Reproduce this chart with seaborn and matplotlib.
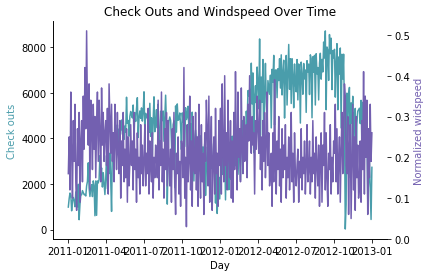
import matplotlib
matplotlib.use("Agg")
import matplotlib.pyplot as plt
import seaborn as sns
import pandas as pd

# Bike check-outs, every second day from 2011-01-01 to 2012-12-31
cnt = [
    985, 1349, 1600, 1510, 822, 1263, 1406, 1248, 1000, 1650, 1543, 986, 1985, 431, 1098, 1501,      # 2011-01
    1526, 1708, 1623, 1530, 1538, 1472, 1913, 2115, 2927, 1812, 1450, 1807, 1969, 1446,              # 2011-02
    2134, 1944, 605, 2133, 623, 2132, 2046, 2192, 3239, 2471, 2703, 1865, 2496, 2028, 1536,          # 2011-03
    2227, 3249, 1795, 3141, 2455, 3348, 2162, 795, 3744, 3204, 4189, 4036, 4073, 3872, 4595,         # 2011-04
    3351, 4401, 4451, 4362, 4803, 4182, 4864, 3958, 4541, 4274, 5805, 4660, 4788, 4098, 4968, 5180,  # 2011-05
    5020, 4900, 5463, 3974, 5119, 4744, 5305, 5785, 4040, 4891, 5202, 4881, 5336, 4758, 5180,        # 2011-06
    6043, 4342, 5099, 4906, 5046, 4590, 4258, 5538, 4086, 4905, 3285, 4758, 5823, 4292, 4692,        # 2011-07
    5260, 4459, 5501, 3603, 4109, 5191, 4866, 4780, 5202, 3873, 4917, 5895, 4576, 1115, 3351, 4758,  # 2011-08
    4940, 4785, 3834, 2710, 4602, 4765, 1842, 5423, 4274, 5511, 4795, 4830, 5115, 4595, 3510,        # 2011-09
    5117, 4727, 5138, 3644, 5342, 4826, 4985, 5409, 4294, 3331, 4648, 3570, 5150, 4187, 2132,        # 2011-10
    3974, 4362, 3895, 4035, 3663, 4322, 3403, 4109, 2425, 3614, 3620, 3310, 3767, 1495, 2739,        # 2011-11
    3614, 2832, 3785, 3310, 2739, 3767, 2660, 3068, 3214, 2425, 1162, 2743, 705, 1796, 2294, 1341,   # 2011-12
    2294, 4097, 2417, 3214, 2566, 3429, 1301, 3620, 3239, 2898, 1746, 3829, 2209, 3351, 4097,        # 2012-01
    2732, 3922, 3830, 2802, 4318, 3357, 2423, 3194, 4322, 2169, 4151, 3659, 4780, 3349, 4563,        # 2012-02
    3922, 5191, 4665, 6093, 5847, 6153, 4990, 7300, 5511, 6871, 3372, 5847, 6312, 5558, 7132,        # 2012-03
    6370, 5302, 8362, 4118, 6691, 5585, 7460, 3331, 6041, 7290, 5572, 4673, 6536, 6233, 5936,        # 2012-04
    6772, 4459, 7030, 6460, 7642, 4586, 6998, 7001, 5786, 7055, 6536, 7498, 6206, 7665, 5905, 6883,  # 2012-05
    7429, 4891, 6879, 7639, 5463, 6825, 8120, 6153, 7494, 5531, 7493, 6770, 5342, 7264, 6398,        # 2012-06
    6043, 7458, 5687, 7264, 6966, 4672, 7347, 6779, 5936, 7286, 6612, 7001, 5140, 7410, 6917,        # 2012-07
    7261, 5923, 7665, 7499, 4905, 7580, 6897, 7641, 5464, 7713, 6830, 7109, 5686, 7290, 7733, 6598,  # 2012-08
    7466, 6914, 8227, 7525, 8714, 5260, 8009, 7865, 6544, 8555, 7720, 8395, 6140, 7852, 7534,        # 2012-09
    7907, 5810, 7338, 8156, 5255, 7570, 6824, 7965, 4459, 7691, 6606, 7693, 5100, 22, 1096,          # 2012-10
    5986, 4585, 5875, 6234, 2277, 5557, 4669, 5847, 3767, 5099, 5315, 2424, 4670, 5191, 5260,        # 2012-11
    5323, 4649, 5668, 3510, 5582, 4153, 5557, 5267, 3228, 4585, 1341, 2114, 3095, 1787, 441, 2729,   # 2012-12
]

# Normalized windspeed on the same days
windspeed = [
    0.16, 0.25, 0.12, 0.36, 0.21, 0.10, 0.29, 0.19, 0.33, 0.14, 0.07, 0.27, 0.18, 0.31, 0.09, 0.24,  # 2011-01
    0.29, 0.14, 0.35, 0.22, 0.42, 0.27, 0.51, 0.31, 0.23, 0.38, 0.12, 0.34, 0.28, 0.17,              # 2011-02
    0.33, 0.22, 0.30, 0.15, 0.28, 0.36, 0.19, 0.34, 0.26, 0.14, 0.37, 0.23, 0.31, 0.19, 0.26,        # 2011-03
    0.29, 0.18, 0.32, 0.11, 0.38, 0.30, 0.21, 0.33, 0.19, 0.26, 0.14, 0.33, 0.24, 0.17, 0.31,        # 2011-04
    0.21, 0.16, 0.29, 0.10, 0.24, 0.18, 0.31, 0.14, 0.22, 0.15, 0.27, 0.09, 0.25, 0.13, 0.19, 0.28,  # 2011-05
    0.18, 0.24, 0.12, 0.31, 0.17, 0.22, 0.09, 0.26, 0.15, 0.20, 0.11, 0.28, 0.16, 0.23, 0.13,        # 2011-06
    0.19, 0.28, 0.13, 0.21, 0.16, 0.32, 0.11, 0.24, 0.18, 0.14, 0.26, 0.10, 0.20, 0.15, 0.23,        # 2011-07
    0.20, 0.15, 0.34, 0.12, 0.24, 0.18, 0.36, 0.14, 0.22, 0.10, 0.27, 0.17, 0.31, 0.13, 0.29, 0.19,  # 2011-08
    0.13, 0.22, 0.09, 0.27, 0.17, 0.31, 0.14, 0.06, 0.21, 0.16, 0.25, 0.11, 0.19, 0.08, 0.24,        # 2011-09
    0.22, 0.15, 0.42, 0.10, 0.20, 0.03, 0.28, 0.14, 0.19, 0.35, 0.12, 0.24, 0.08, 0.30, 0.17,        # 2011-10
    0.16, 0.31, 0.12, 0.25, 0.08, 0.33, 0.18, 0.10, 0.28, 0.14, 0.21, 0.06, 0.26, 0.19, 0.34,        # 2011-11
    0.27, 0.13, 0.35, 0.09, 0.22, 0.30, 0.07, 0.19, 0.25, 0.11, 0.32, 0.16, 0.21, 0.08, 0.29, 0.18,  # 2011-12
    0.32, 0.11, 0.38, 0.21, 0.14, 0.40, 0.18, 0.26, 0.12, 0.34, 0.20, 0.15, 0.29, 0.10, 0.24,        # 2012-01
    0.09, 0.31, 0.17, 0.41, 0.23, 0.12, 0.36, 0.20, 0.27, 0.14, 0.37, 0.22, 0.16, 0.30, 0.19,        # 2012-02
    0.20, 0.28, 0.15, 0.33, 0.24, 0.40, 0.27, 0.21, 0.30, 0.23, 0.26, 0.11, 0.29, 0.22, 0.35,        # 2012-03
    0.27, 0.21, 0.34, 0.17, 0.25, 0.12, 0.29, 0.19, 0.31, 0.15, 0.23, 0.36, 0.18, 0.26, 0.13,        # 2012-04
    0.16, 0.21, 0.08, 0.26, 0.14, 0.39, 0.19, 0.11, 0.24, 0.17, 0.30, 0.13, 0.22, 0.09, 0.27, 0.15,  # 2012-05
    0.23, 0.17, 0.28, 0.10, 0.20, 0.15, 0.25, 0.12, 0.19, 0.31, 0.14, 0.21, 0.09, 0.26, 0.16,        # 2012-06
    0.13, 0.18, 0.22, 0.09, 0.19, 0.15, 0.27, 0.12, 0.20, 0.16, 0.24, 0.11, 0.18, 0.28, 0.14,        # 2012-07
    0.17, 0.24, 0.11, 0.20, 0.14, 0.29, 0.16, 0.21, 0.10, 0.25, 0.18, 0.13, 0.23, 0.08, 0.19, 0.26,  # 2012-08
    0.09, 0.23, 0.18, 0.31, 0.12, 0.26, 0.15, 0.08, 0.21, 0.17, 0.28, 0.11, 0.20, 0.14, 0.24,        # 2012-09
    0.21, 0.33, 0.14, 0.27, 0.11, 0.19, 0.25, 0.09, 0.22, 0.31, 0.16, 0.28, 0.38, 0.35, 0.18,        # 2012-10
    0.16, 0.30, 0.06, 0.22, 0.28, 0.05, 0.19, 0.33, 0.12, 0.25, 0.07, 0.30, 0.15, 0.23, 0.10,        # 2012-11
    0.13, 0.24, 0.09, 0.29, 0.17, 0.41, 0.11, 0.35, 0.20, 0.34, 0.06, 0.27, 0.15, 0.33, 0.19, 0.26,  # 2012-12
]

days = pd.date_range("2011-01-01", periods=len(cnt), freq="2D")
df = pd.DataFrame({"Day": days, "cnt": cnt, "windspeed": windspeed})

TEAL = "#4a9dab"
PURPLE = "#7360b0"

fig, ax = plt.subplots(figsize=(6, 3.86), dpi=72)
fig.subplots_adjust(left=0.123, right=0.896, bottom=0.137, top=0.921)

sns.lineplot(data=df, x="Day", y="cnt", color=TEAL, ax=ax, linewidth=1.5)
ax.set_ylabel("Check outs", color=TEAL)
ax.set_xlabel("Day")

ax2 = ax.twinx()
sns.lineplot(data=df, x="Day", y="windspeed", color=PURPLE, ax=ax2, linewidth=1.5)
ax2.set_ylabel("Normalized widspeed", color=PURPLE)
ax2.set_ylim(bottom=0)

sns.despine(ax=ax)
sns.despine(ax=ax2, right=True)

ax.set_title("Check Outs and Windspeed Over Time")
fig.savefig("out.png", dpi=72)
